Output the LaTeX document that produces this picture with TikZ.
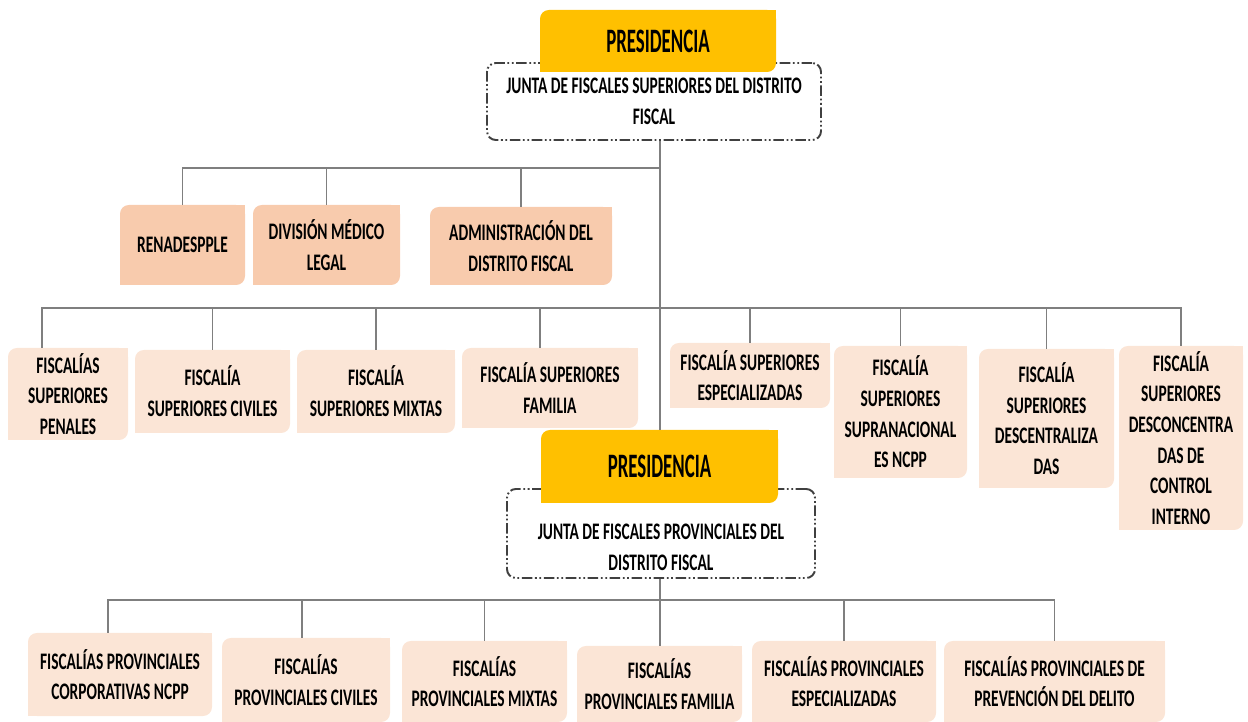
\documentclass[tikz,border=0pt]{standalone}
\usepackage{fontspec}
\setmainfont{Carlito}[FakeStretch=0.65]
\newfontfamily\presfont{Carlito}[FakeStretch=0.55]

\definecolor{presyellow}{HTML}{FFC000}
\definecolor{unitsalmon}{HTML}{F8CBAD}
\definecolor{fiscpeach}{HTML}{FBE5D6}
\definecolor{linkgray}{HTML}{7F7F7F}
\definecolor{juntagray}{HTML}{404040}

\newdimen\px \px=0.02cm

\tikzset{
  txt/.style={font=\bfseries\fontsize{13.5}{17.5}\selectfont, align=center, inner sep=0pt},
  unitbox/.style={txt, fill=unitsalmon, rounded corners=5pt},
  fiscbox/.style={txt, fill=fiscpeach, rounded corners=5pt},
  presbox/.style={fill=presyellow, rounded corners=5pt, inner sep=0pt,
    font=\presfont\bfseries\fontsize{19.5}{20}\selectfont},
  juntabox/.style={txt, draw=juntagray, line width=1.1pt, rounded corners=5pt,
    dash pattern=on 6pt off 1.5pt on 1pt off 1.5pt on 1pt off 1.5pt},
  link/.style={draw=linkgray, line width=1.1pt},
}

\begin{document}
\begin{tikzpicture}[x=\px, y=-\px]
\useasboundingbox (0,0) rectangle (1248,722);

% superior level
\node[juntabox, minimum width=334\px, minimum height=77\px] (jsup) at (654,101.5)
  {JUNTA DE FISCALES SUPERIORES DEL DISTRITO\\FISCAL};
\node[presbox, minimum width=236\px, minimum height=62\px] (psup) at (658,41) {PRESIDENCIA};

\node[unitbox, minimum width=125\px, minimum height=80\px] (ren) at (182.5,245) {RENADESPPLE};
\node[unitbox, minimum width=147\px, minimum height=80\px] (dml) at (326.5,245) {DIVISIÓN MÉDICO\\LEGAL};
\node[unitbox, minimum width=182\px, minimum height=78\px] (adm) at (521,246) {ADMINISTRACIÓN DEL\\DISTRITO FISCAL};

\node[fiscbox, minimum width=120\px, minimum height=92\px] (fsp) at (68,394) {FISCALÍAS\\SUPERIORES\\PENALES};
\node[fiscbox, minimum width=155\px, minimum height=83\px] (fsc) at (212.5,391.5) {FISCALÍA\\SUPERIORES CIVILES};
\node[fiscbox, minimum width=158\px, minimum height=83\px] (fsm) at (376,391.5) {FISCALÍA\\SUPERIORES MIXTAS};
\node[fiscbox, minimum width=176\px, minimum height=80\px] (fsf) at (550,388) {FISCALÍA SUPERIORES\\FAMILIA};
\node[fiscbox, minimum width=160\px, minimum height=65\px] (fse) at (750,375.5) {FISCALÍA SUPERIORES\\ESPECIALIZADAS};
\node[fiscbox, minimum width=133\px, minimum height=132\px] (fss) at (900.5,412) {FISCALÍA\\SUPERIORES\\SUPRANACIONAL\\ES NCPP};
\node[fiscbox, minimum width=135\px, minimum height=139\px] (fsd) at (1046.5,418.5) {FISCALÍA\\SUPERIORES\\DESCENTRALIZA\\DAS};
\node[fiscbox, minimum width=124\px, minimum height=184\px] (fsi) at (1181,438) {FISCALÍA\\SUPERIORES\\DESCONCENTRA\\DAS DE\\CONTROL\\INTERNO};

% provincial level
\node[juntabox, minimum width=308\px, minimum height=89\px,
  label={[txt, yshift=-13.5\px]center:{JUNTA DE FISCALES PROVINCIALES DEL\\DISTRITO FISCAL}}]
  (jprov) at (661,533.5) {};
\node[presbox, minimum width=237\px, minimum height=73\px] (pprov) at (659.5,466.5) {PRESIDENCIA};

\node[fiscbox, minimum width=184\px, minimum height=83\px] (fpc) at (120,674.5) {FISCALÍAS PROVINCIALES\\CORPORATIVAS NCPP};
\node[fiscbox, minimum width=168\px, minimum height=84\px] (fpv) at (306,680) {FISCALÍAS\\PROVINCIALES CIVILES};
\node[fiscbox, minimum width=165\px, minimum height=81\px] (fpm) at (484.5,681.5) {FISCALÍAS\\PROVINCIALES MIXTAS};
\node[fiscbox, minimum width=165\px, minimum height=76\px] (fpf) at (659.5,684) {FISCALÍAS\\PROVINCIALES FAMILIA};
\node[fiscbox, minimum width=184\px, minimum height=81\px] (fpe) at (844,681.5) {FISCALÍAS PROVINCIALES\\ESPECIALIZADAS};
\node[fiscbox, minimum width=221\px, minimum height=81\px] (fpd) at (1054.5,681.5) {FISCALÍAS PROVINCIALES DE\\PREVENCIÓN DEL DELITO};

% sharp corners of the diagonal boxes
\foreach \n/\c in {ren/unitsalmon, dml/unitsalmon, adm/unitsalmon,
    fsp/fiscpeach, fsc/fiscpeach, fsm/fiscpeach, fsf/fiscpeach, fse/fiscpeach,
    fss/fiscpeach, fsd/fiscpeach, fsi/fiscpeach,
    fpc/fiscpeach, fpv/fiscpeach, fpm/fiscpeach, fpf/fiscpeach, fpe/fiscpeach, fpd/fiscpeach,
    psup/presyellow, pprov/presyellow} {
  \fill[\c] (\n.north east) rectangle ++(-5pt,-5pt);
  \fill[\c] (\n.south west) rectangle ++(5pt,5pt);
}

% connectors
\coordinate (bus1) at (660,168);
\coordinate (bus2) at (660,308);
\coordinate (bus3) at (660,600);

\draw[link] (jsup.south -| bus1) -- (pprov.north -| bus1);
\foreach \n in {ren,dml,adm}
  \draw[link] (\n.north) |- (bus1);
\draw[link] ([xshift=-26\px]fsp.north) |- (bus2);
\draw[link] ([xshift=-10\px]fsf.north) |- (bus2);
\foreach \n in {fsc,fsm,fse,fss,fsd,fsi}
  \draw[link] (\n.north) |- (bus2);
\draw[link] (jprov.south -| bus3) -- (fpf.north -| bus3);
\draw[link] ([xshift=-12\px]fpc.north) |- (bus3);
\draw[link] ([xshift=-4\px]fpv.north) |- (bus3);
\foreach \n in {fpm,fpe,fpd}
  \draw[link] (\n.north) |- (bus3);

\end{tikzpicture}
\end{document}
